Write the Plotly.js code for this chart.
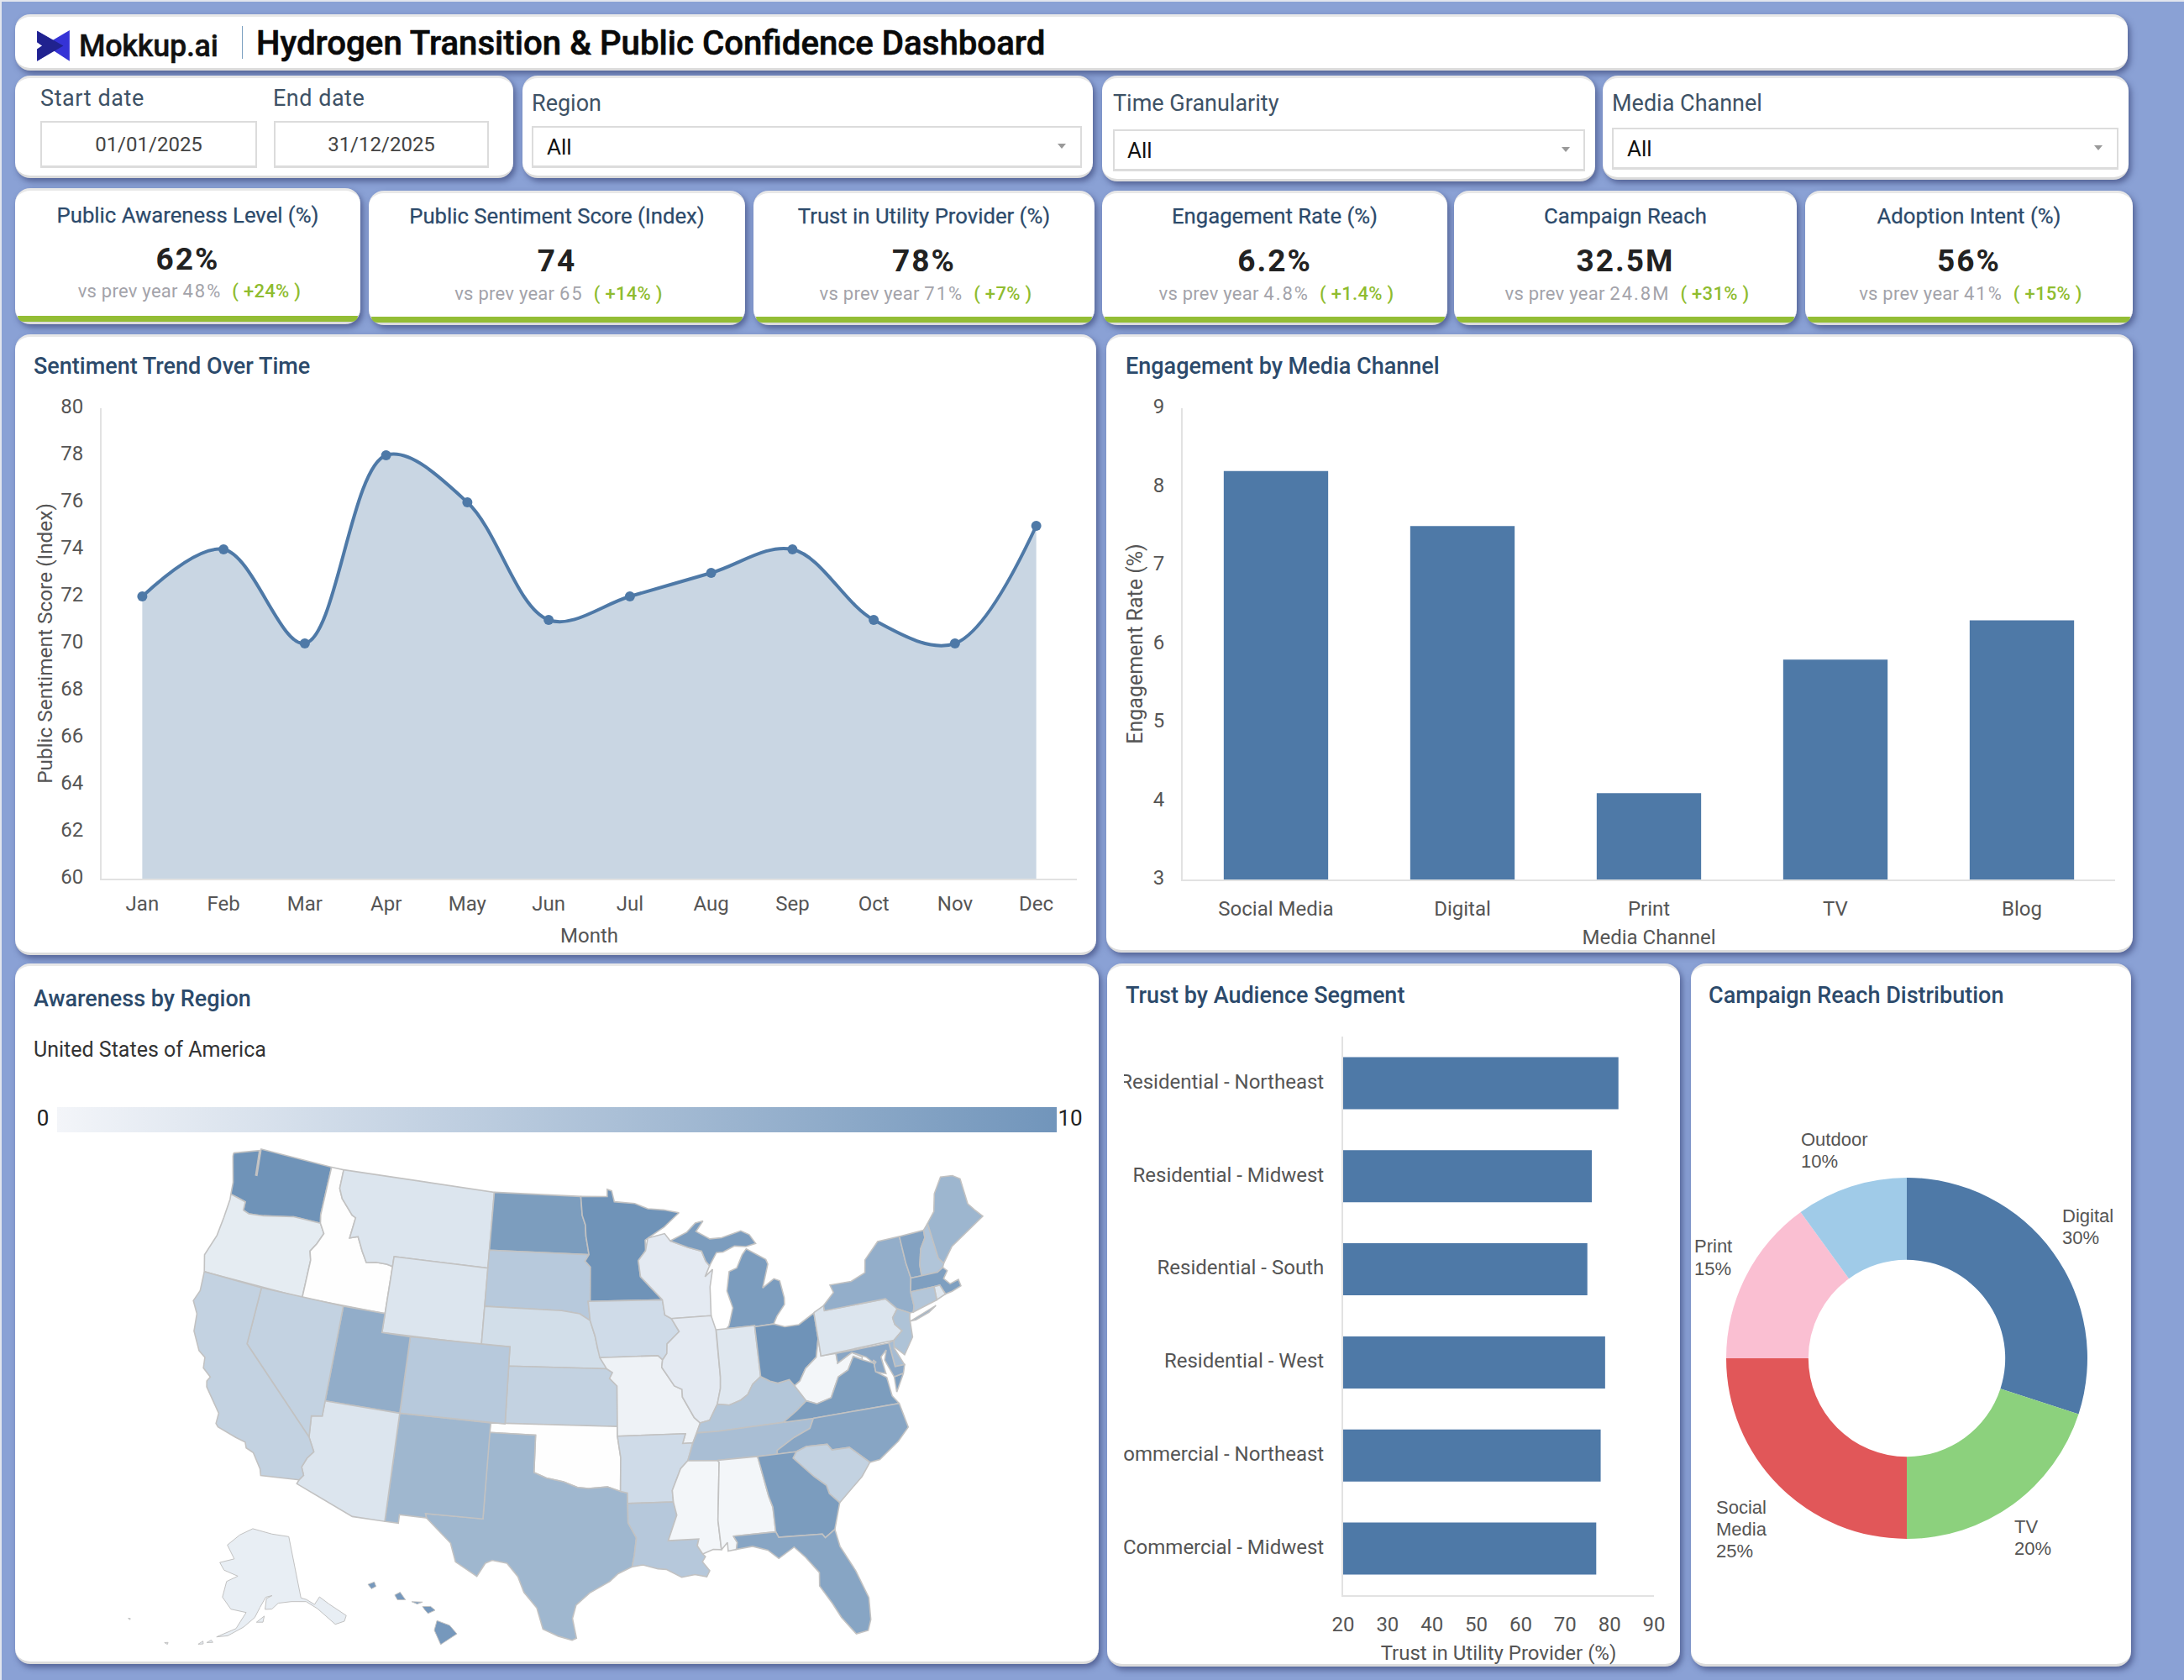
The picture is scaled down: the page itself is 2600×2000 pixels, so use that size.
<!DOCTYPE html>
<html><head><meta charset="utf-8">
<script src="https://cdn.plot.ly/plotly-3.0.1.min.js"></script>
<style>
html,body{margin:0;padding:0;width:2600px;height:2000px;background:#8aa1d5;overflow:hidden;font-family:Roboto,sans-serif}
.card{position:absolute;background:#fff;border-radius:18px;border-top:3px solid #e8e8e8;border-bottom:3px solid #dcdcdc;box-sizing:border-box;box-shadow:3px 4px 7px rgba(40,50,100,.55)}
.t{position:absolute;white-space:nowrap;line-height:1;transform:translateY(-50%)}
.c{transform:translate(-50%,-50%)}
.box{position:absolute;box-sizing:border-box;background:#fff;border:2px solid #dcdcdc;border-bottom-width:3px}
.arrow{position:absolute;width:0;height:0;border-left:5px solid transparent;border-right:5px solid transparent;border-top:6px solid #999}
.pt{font-weight:500;font-size:27px;color:#2c4a6b}
.flabel{font-size:27px;color:#3e5266}
.kt{font-weight:400;font-size:25.7px;color:#2c4a6b;-webkit-text-stroke:.25px #2c4a6b}
.kv{font-weight:700;font-size:37px;color:#222;letter-spacing:2px}
.ks{font-size:22px;color:#a3a3aa;letter-spacing:.25px}
.ks i{font-style:normal;letter-spacing:2px}
.ks b{color:#8fbc2f;font-weight:500;letter-spacing:.3px;margin-left:12px}
.green{position:absolute;left:3px;right:3px;bottom:0;height:7px;background:#93bd35;border-radius:0 0 12px 12px}
.plot{position:absolute}
</style></head><body>
<div style="position:absolute;left:0;top:0;width:2600px;height:2px;background:#e3e6ee"></div>
<div style="position:absolute;left:0;top:0;width:2px;height:2000px;background:#e3e6ee"></div>
<div id="page"></div>
<script>
// ---- data ----
const months=['Jan','Feb','Mar','Apr','May','Jun','Jul','Aug','Sep','Oct','Nov','Dec'];
const sentiment=[72,74,70,78,76,71,72,73,74,71,70,75];
const channels=['Social Media','Digital','Print','TV','Blog'];
const engagement=[8.2,7.5,4.1,5.8,6.3];
const segments=['Residential - Northeast','Residential - Midwest','Residential - South','Residential - West','Commercial - Northeast','Commercial - Midwest'];
const trust=[82,76,75,79,78,77];
const reachLabels=['Digital','TV','Social Media','Print','Outdoor'];
const reachValues=[30,20,25,15,10];
const reachColors=['#4e79a7','#8cd17d','#e15759','#fabfd2','#a0cbe8'];
const stateCodes=['WA','OR','ID','MT','WY','ND','SD','NE','KS','OK','TX','NM','CO','UT','AZ','NV','CA','MN','IA','MO','AR','LA','WI','IL','MS','MI','IN','KY','TN','AL','OH','WV','VA','NC','SC','GA','FL','PA','NY','VT','NH','ME','MA','RI','CT','NJ','DE','MD','DC','AK','HI'];
const stateValues=[10,1.8,0.1,2.4,2.4,9.1,5,3.1,4.2,0.1,6.7,6.7,5,7.6,2.4,4.2,4.2,10,3.3,1.2,3.3,5.1,1.9,1.9,0.8,9.2,2.2,5.3,6,0.8,10,0.8,9.1,8.3,4.2,9.2,8.3,2.4,7.5,8.6,5.4,6.8,8.9,2.2,5.3,5.6,6.2,8.2,6,1.6,9.5];
const kpis=[
 ['Public Awareness Level (%)','62%','vs prev year','48%','( +24% )'],
 ['Public Sentiment Score (Index)','74','vs prev year','65','( +14% )'],
 ['Trust in Utility Provider (%)','78%','vs prev year','71%','( +7% )'],
 ['Engagement Rate (%)','6.2%','vs prev year','4.8%','( +1.4% )'],
 ['Campaign Reach','32.5M','vs prev year','24.8M','( +31% )'],
 ['Adoption Intent (%)','56%','vs prev year','41%','( +15% )']];
// state outlines (lon,lat) used as geography for the map
const outlines={
WA:[[-124.73,48.38,-122.85,48.9,-122.6,47.6,-122.5,47.6,-122.75,49,-117.03,49,-117.04,46.42,-116.92,45.99,-118.98,46,-119.3,45.93,-121.2,45.65,-122.3,45.55,-122.76,45.65,-122.8,46.1,-123.4,46.2,-124,46.27,-124.1,46.9,-124.7,48.2]],
OR:[[-124,46.27,-123.4,46.2,-122.8,46.1,-122.76,45.65,-122.3,45.55,-121.2,45.65,-119.3,45.93,-118.98,46,-116.92,45.99,-116.5,45.5,-116.85,44.9,-117.22,44.45,-117.03,44,-117.03,42,-124.21,42,-124.55,42.84,-124.1,44,-124,45,-123.95,46]],
ID:[[-117.03,49,-116.05,49,-116.05,48,-115.7,47.5,-114.7,46.75,-114.4,46.65,-114.55,45.55,-113.95,45.7,-113.45,45,-113,44.45,-112.3,44.55,-111.5,44.55,-111.05,44.48,-111.05,42,-117.03,42,-117.03,44,-117.22,44.45,-116.85,44.9,-116.5,45.5,-116.92,45.99,-117.04,46.42]],
MT:[[-116.05,49,-104.05,49,-104.05,45,-111.05,45,-111.05,44.48,-111.5,44.55,-112.3,44.55,-113,44.45,-113.45,45,-113.95,45.7,-114.55,45.55,-114.4,46.65,-114.7,46.75,-115.7,47.5,-116.05,48]],
WY:[[-111.05,45,-104.05,45,-104.05,41,-111.05,41]],
ND:[[-104.05,49,-97.23,49,-97.1,48,-96.85,47.5,-96.8,46.9,-96.56,45.94,-104.05,45.94]],
SD:[[-104.05,45.94,-96.56,45.94,-96.85,45.6,-96.45,45.3,-96.45,43.5,-96.6,43.5,-96.45,42.5,-97.2,42.85,-98.5,43,-104.05,43]],
NE:[[-104.05,43,-98.5,43,-97.2,42.85,-96.45,42.5,-96.1,41.7,-95.9,41,-95.3,40,-102.05,40,-102.05,41,-104.05,41]],
KS:[[-102.05,40,-95.3,40,-94.9,39.8,-95.1,39.5,-94.6,39.1,-94.62,37,-102.04,37]],
OK:[[-103,37,-94.62,37,-94.62,36.5,-94.43,35.4,-94.48,33.64,-95.3,33.88,-96.5,33.8,-97.2,33.85,-98.1,34.13,-99.2,34.3,-100,34.56,-100,36.5,-103.04,36.5]],
TX:[[-103.04,36.5,-100,36.5,-100,34.56,-99.2,34.3,-98.1,34.13,-97.2,33.85,-96.5,33.8,-95.3,33.88,-94.48,33.64,-94.04,33.55,-94.04,33,-94.04,32,-93.55,31.2,-93.7,30.3,-93.85,29.7,-94.7,29.35,-95.2,28.95,-96.4,28.35,-97.2,27.7,-97.4,27,-97.15,25.96,-97.4,25.85,-98.2,26.05,-99.1,26.4,-99.5,27.5,-100.3,28.3,-100.7,29.1,-101.4,29.77,-102.3,29.88,-102.7,29.7,-103.15,28.98,-104.5,29.65,-104.9,30.6,-106,31.4,-106.53,31.78,-106.62,32,-103.04,32]],
NM:[[-109.05,37,-103,37,-103.04,32,-106.62,32,-106.53,31.78,-108.21,31.78,-108.21,31.33,-109.05,31.33]],
CO:[[-109.05,41,-102.05,41,-102.05,37,-109.05,37]],
UT:[[-114.05,42,-111.05,42,-111.05,41,-109.05,41,-109.05,37,-114.05,37]],
AZ:[[-114.05,37,-109.05,37,-109.05,31.33,-111.07,31.33,-114.81,32.5,-114.72,32.72,-114.5,33,-114.72,33.4,-114.5,33.9,-114.15,34.3,-114.63,35,-114.75,36.1,-114.05,36.2]],
NV:[[-120,42,-114.05,42,-114.05,36.2,-114.75,36.1,-114.63,35,-120,39]],
CA:[[-124.21,42,-120,42,-120,39,-114.63,35,-114.15,34.3,-114.5,33.9,-114.72,33.4,-114.5,33,-114.72,32.72,-117.12,32.53,-117.25,32.85,-117.9,33.6,-118.4,33.75,-118.55,34.03,-119.2,34.15,-120.47,34.45,-120.65,34.6,-120.65,35.15,-121.85,36.3,-121.95,36.6,-121.8,36.85,-122.4,37.2,-122.5,37.75,-123,38,-123.7,38.9,-123.85,39.8,-124.35,40.4,-124.1,41]],
MN:[[-97.23,49,-95.15,49,-95.15,49.38,-94.8,49.3,-94.6,48.72,-93,48.6,-92,48.3,-90.8,48.2,-89.6,48,-90.8,47.3,-92.1,46.75,-92.3,46.65,-92.3,46.1,-92.87,45.6,-92.75,44.75,-91.22,43.5,-96.45,43.5,-96.45,45.3,-96.85,45.6,-96.56,45.94,-96.8,46.9,-96.85,47.5,-97.1,48]],
IA:[[-96.45,43.5,-91.22,43.5,-91.1,42.7,-90.65,42.5,-90.15,41.8,-91.05,41.2,-91.1,40.7,-91.42,40.38,-91.73,40.61,-95.77,40.58,-95.9,41,-96.1,41.7,-96.45,42.5,-96.6,43.5]],
MO:[[-95.77,40.58,-91.73,40.61,-91.42,40.38,-91.5,40,-90.7,39,-90.2,38.8,-90.2,38.4,-89.5,37.3,-89.13,37,-89.4,36.5,-89.7,36,-90.37,36,-90.15,36.5,-94.62,36.5,-94.62,37,-94.6,39.1,-95.1,39.5,-94.9,39.8,-95.3,40]],
AR:[[-94.62,36.5,-90.15,36.5,-90.37,36,-89.7,36,-90.1,35.1,-90.6,34.7,-91.2,33.6,-91.17,33,-94.04,33,-94.04,33.55,-94.48,33.64,-94.43,35.4]],
LA:[[-94.04,33,-91.17,33,-91,32.3,-91.6,31,-89.73,31,-89.85,30.65,-89.55,30.2,-89.4,30.05,-89.6,29.8,-89.2,29.3,-89.4,29,-90.1,29.15,-90.9,29.05,-91.8,29.5,-92.3,29.55,-93.2,29.78,-93.85,29.7,-93.7,30.3,-93.55,31.2,-94.04,32]],
WI:[[-92.1,46.75,-90.8,46.95,-90.4,46.55,-89.1,46.15,-88.1,45.9,-87.85,45.35,-87.6,45.1,-88,44.55,-87.4,44.9,-87.7,44,-87.8,42.5,-90.65,42.5,-91.1,42.7,-91.22,43.5,-92.75,44.75,-92.87,45.6,-92.3,46.1]],
IL:[[-90.65,42.5,-87.8,42.5,-87.55,41.75,-87.53,39.3,-87.6,38.7,-87.9,37.9,-88.5,37.1,-89.13,37,-89.5,37.3,-90.2,38.4,-90.2,38.8,-90.7,39,-91.5,40,-91.42,40.38,-91.1,40.7,-91.05,41.2,-90.15,41.8]],
MS:[[-90.1,35.1,-88.2,35,-88.1,34.9,-88.47,31.9,-88.4,30.35,-88.9,30.4,-89.55,30.2,-89.85,30.65,-89.73,31,-91.6,31,-91,32.3,-91.17,33,-91.2,33.6,-90.6,34.7]],
MI:[[-86.8,41.76,-84.8,41.76,-84.8,41.7,-83.45,41.72,-83.15,42.1,-82.5,42.65,-82.45,43,-82.6,43.9,-83,44.05,-83.9,43.65,-83.3,44.85,-83.4,45.1,-84.75,45.78,-85.1,45.5,-85.6,44.85,-86.2,44.7,-86.5,43.7,-86.2,42.8,-86.6,41.9],[-90.4,46.55,-89.1,46.95,-88.4,47.4,-87.8,47.47,-88.4,46.95,-87.4,46.5,-86.5,46.5,-85,46.75,-84.4,46.5,-84,46,-84.75,45.9,-85.6,46,-86.5,45.75,-87,45.75,-87.6,45.1,-87.85,45.35,-88.1,45.9,-89.1,46.15]],
IN:[[-87.53,41.75,-87.2,41.75,-86.8,41.76,-84.8,41.76,-84.8,39.1,-85.4,38.75,-85.8,38.25,-86.3,38,-87.1,37.8,-87.9,37.9,-87.6,38.7,-87.53,39.3]],
KY:[[-89.4,36.5,-89.13,37,-88.5,37.1,-87.9,37.9,-87.1,37.8,-86.3,38,-85.8,38.25,-85.4,38.75,-84.8,39.1,-84.2,38.8,-83.7,38.65,-82.9,38.75,-82.6,38.4,-81.97,37.54,-82.7,37.1,-83.67,36.6,-88.05,36.5]],
TN:[[-89.7,36,-89.4,36.5,-88.05,36.5,-83.67,36.6,-81.68,36.59,-82,36.1,-83.1,35.75,-84.3,35.2,-84.32,35,-88.2,35,-90.1,35.1]],
AL:[[-88.2,35,-85.6,35,-85.18,32.87,-85,32.3,-85,31,-87.6,31,-87.4,30.65,-87.5,30.3,-88,30.25,-88,30.7,-88.4,30.35,-88.47,31.9,-88.1,34.9]],
OH:[[-84.8,41.7,-83.45,41.72,-82.7,41.5,-81.7,41.5,-80.52,41.98,-80.52,40.64,-80.85,39.7,-81.7,39.2,-82.2,38.6,-82.6,38.4,-82.9,38.75,-83.7,38.65,-84.2,38.8,-84.8,39.1]],
WV:[[-81.97,37.54,-82.6,38.4,-82.2,38.6,-81.7,39.2,-80.85,39.7,-80.52,40.64,-80.52,39.72,-79.48,39.72,-79.48,39.2,-78.4,39.62,-77.75,39.3,-77.8,39.15,-78.35,39.4,-78.87,38.76,-79.6,38.5,-80.3,37.5,-81.3,37.3]],
VA:[[-83.67,36.6,-82.7,37.1,-81.97,37.54,-81.3,37.3,-80.3,37.5,-79.6,38.5,-78.87,38.76,-78.35,39.4,-77.8,39.15,-77.05,38.85,-77.05,38.4,-76.4,38,-76.3,37,-75.95,36.55,-81.68,36.59],[-75.95,37.15,-75.25,38.03,-75.9,37.95]],
NC:[[-84.32,35,-84.3,35.2,-83.1,35.75,-82,36.1,-81.68,36.59,-75.95,36.55,-75.7,35.25,-76.5,34.65,-77.9,33.9,-78.55,33.85,-79.67,34.8,-80.8,34.82,-81.05,35.15,-82.4,35.2,-83.1,35]],
SC:[[-83.1,35,-82.4,35.2,-81.05,35.15,-80.8,34.82,-79.67,34.8,-78.55,33.85,-79.2,33.2,-80.85,32.05,-81.4,32.6,-81.5,33.05,-82.2,33.6,-83.35,34.7]],
GA:[[-85.6,35,-84.32,35,-83.1,35,-83.35,34.7,-82.2,33.6,-81.5,33.05,-81.4,32.6,-80.85,32.05,-81.4,30.72,-82.05,30.36,-82.2,30.57,-84.86,30.7,-85,31,-85,32.3,-85.18,32.87]],
FL:[[-87.6,31,-85,31,-84.86,30.7,-82.2,30.57,-82.05,30.36,-81.4,30.72,-81.25,29.8,-80.55,28.4,-80.05,26.9,-80.15,25.75,-80.4,25.2,-81.1,25.12,-81.8,26.1,-82.2,26.9,-82.8,27.9,-82.7,28.6,-83.4,29.5,-84,30.1,-85,29.6,-85.6,30.1,-86.5,30.38,-87.5,30.3,-87.4,30.65]],
PA:[[-80.52,42,-79.76,42.27,-79.76,42,-75.35,42,-74.7,41.36,-75.15,40.95,-75.1,40.6,-74.7,40.2,-75.4,39.8,-80.52,39.72]],
NY:[[-79.76,42.27,-78.9,42.85,-79.05,43.27,-77.5,43.25,-76.4,43.55,-76.2,44.2,-75,45,-73.35,45,-73.35,43.6,-73.25,42.75,-73.5,42.05,-73.5,41.3,-73.65,41,-73.9,41,-74.7,41.36,-75.35,42,-79.76,42],[-74,40.58,-72,41.05,-72.6,40.8,-73.6,40.58]],
VT:[[-73.35,45,-71.5,45,-71.55,44.6,-72.05,44.1,-72.4,43.3,-72.46,42.73,-73.25,42.75,-73.35,43.6]],
NH:[[-71.5,45,-71.08,45.3,-70.98,43.4,-70.7,43.07,-70.85,42.87,-71.3,42.7,-72.46,42.73,-72.4,43.3,-72.05,44.1,-71.55,44.6]],
ME:[[-71.08,45.3,-70.4,45.8,-70,46.7,-69.2,47.45,-68.3,47.35,-67.8,47.07,-67.8,45.7,-67.45,45.3,-67,44.85,-68.5,44.3,-69.8,43.8,-70.7,43.07,-70.98,43.4]],
MA:[[-73.5,42.05,-73.25,42.75,-72.46,42.73,-71.3,42.7,-70.85,42.87,-70.6,42.65,-71,42.3,-70.65,41.95,-70,42.05,-69.95,41.7,-70.65,41.55,-71.15,41.5,-71.38,42.02,-71.8,42.02]],
RI:[[-71.8,42.02,-71.38,42.02,-71.15,41.5,-71.85,41.32]],
CT:[[-73.5,42.05,-71.8,42.02,-71.85,41.32,-73.65,41,-73.5,41.3]],
NJ:[[-74.7,41.36,-73.9,41,-74,40.7,-74.1,39.75,-74.9,38.95,-75.5,39.5,-75.4,39.8,-74.7,40.2,-75.1,40.6,-75.15,40.95]],
DE:[[-75.78,39.72,-75.4,39.8,-75.5,39.4,-75.05,38.45,-75.7,38.46]],
MD:[[-79.48,39.72,-75.78,39.72,-75.7,38.46,-75.05,38.45,-75.25,38.03,-75.9,37.95,-76.3,38.9,-76.05,39.4,-76.5,39.1,-76.4,38.2,-77.05,38.4,-77.05,38.85,-77.5,39.25,-78.4,39.62,-79.48,39.2]],
DC:[[-77.12,38.93,-77.04,39,-76.91,38.89,-77.04,38.79]],
AK:[[-141,69.65,-141,60.3,-139.5,59.9,-137.5,58.9,-135.5,59.8,-133.5,58.4,-130,55.9,-131,55.2,-133.5,55.2,-135.5,57,-137,58.2,-139.7,59.6,-144,60,-148,60,-150,59.2,-152,59.2,-151.5,60.8,-149.7,61.2,-151.7,61,-153.5,59.5,-155,58,-158,56.5,-162,55,-164.8,54.6,-160,56.2,-157.5,58.7,-162,59,-165,60.6,-164.5,63,-161,64,-166,64.6,-168,65.6,-163,66.5,-166.5,68.4,-162,70.2,-156.5,71.3,-148,70.4],[-167,53.5,-166,54,-165.5,53.7],[-169,53,-168,53.6,-167.8,53.2],[-177,51.8,-176.2,52,-176.2,51.7],[-187.5,52.9,-187,53,-187,52.8],[-154.5,57.3,-152.3,58.2,-152.7,57.3]],
HI:[[-155.9,20.2,-155.2,19.95,-154.8,19.5,-155.7,18.95,-156.05,19.7],[-156.7,20.95,-156.25,20.95,-156,20.75,-156.4,20.58,-156.6,20.8],[-158.25,21.55,-157.95,21.7,-157.65,21.3,-158.1,21.3],[-159.75,22.1,-159.4,22.23,-159.3,22,-159.55,21.87],[-157.3,21.2,-156.7,21.18,-157,21.08]]
};
// ---- layout helpers ----
const page=document.getElementById('page');
function card(x0,y0,x1,y1){const d=document.createElement('div');d.className='card';d.style.cssText=`left:${x0}px;top:${y0}px;width:${x1-x0}px;height:${y1-y0}px`;page.appendChild(d);return d;}
function text(x,y,s,cls,css){const d=document.createElement('div');d.className='t '+(cls||'');d.style.left=x+'px';d.style.top=y+'px';if(css)d.style.cssText+=css;d.innerHTML=s;page.appendChild(d);return d;}
function box(x0,y0,x1,y1){const d=document.createElement('div');d.className='box';d.style.cssText=`left:${x0}px;top:${y0}px;width:${x1-x0}px;height:${y1-y0}px`;page.appendChild(d);return d;}
function arrow(x,y){const d=document.createElement('div');d.className='arrow';d.style.left=(x-5)+'px';d.style.top=(y-3)+'px';page.appendChild(d);}
function plotDiv(x0,y0,x1,y1){const d=document.createElement('div');d.className='plot';d.style.cssText=`left:${x0}px;top:${y0}px;width:${x1-x0}px;height:${y1-y0}px`;page.appendChild(d);return d;}
// header
card(18,17,2533,84);
page.insertAdjacentHTML('beforeend',`<svg style="position:absolute;left:44px;top:36px" width="39" height="37" viewBox="42 33 115 110"><path d="M42 35 L98 68 L157 33 L157 142 L100 105 L42 142 L42 100 L60 88 L42 75 Z" fill="#3533d6"/><path d="M42 35 L135 88 L42 142 L42 100 L60 88 L42 75 Z" fill="#20228f"/></svg>`);
text(94,55,'Mokkup.ai','',"font-size:36px;font-weight:500;color:#111;letter-spacing:-.3px;-webkit-text-stroke:.4px #111");
page.insertAdjacentHTML('beforeend','<div style="position:absolute;left:288px;top:31px;width:1px;height:39px;background:#7a9fc0"></div>');
text(305,52,'Hydrogen Transition &amp; Public Confidence Dashboard','',"font-size:40.2px;font-weight:500;color:#0a0a0a;-webkit-text-stroke:.6px #0a0a0a");
// filter cards
card(18,90,611,212);
text(48,117,'Start date','flabel',"letter-spacing:.6px");text(325,117,'End date','flabel',"letter-spacing:.5px");
box(48,144,306,200);box(326,144,582,200);
text(177,172,'01/01/2025','c',"font-size:24px;color:#444");text(454,172,'31/12/2025','c',"font-size:24px;color:#444");
card(622,90,1301,212);text(633,123,'Region','flabel');box(633,150,1288,200);text(651,175,'All','',"font-size:26px;color:#111");arrow(1264,174);
card(1312,90,1899,216);text(1325,123,'Time Granularity','flabel');box(1325,154,1887,204);text(1342,179,'All','',"font-size:26px;color:#111");arrow(1864,178);
card(1908,90,2534,214);text(1919,123,'Media Channel','flabel');box(1919,152,2522,202);text(1937,177,'All','',"font-size:26px;color:#111");arrow(2498,176);
// kpi cards
const kx=[[18,429],[439,887],[897,1303],[1312,1723],[1731,2139],[2149,2539]];
kpis.forEach((k,i)=>{
 const top=i==0?224:227,bot=i==0?386:387,dy=i==0?-2:0,cx=(kx[i][0]+kx[i][1])/2;
 const c=card(kx[i][0],top,kx[i][1],bot);c.insertAdjacentHTML('beforeend','<div class="green"></div>');
 text(cx,258+dy*.5,k[0],'c kt');text(cx,310+dy,k[1],'c kv');
 text(cx+2,350+dy*1.5,k[2]+' <i>'+k[3]+'</i><b>'+k[4]+'</b>','c ks');
});
// panels
card(18,398,1305,1137);text(40,436,'Sentiment Trend Over Time','pt');
card(1317,398,2539,1134);text(1340,436,'Engagement by Media Channel','pt');
card(18,1147,1308,1981);text(40,1189,'Awareness by Region','pt');text(40,1249,'United States of America','',"font-size:25px;color:#333");
card(1318,1147,2000,1984);text(1340,1185,'Trust by Audience Segment','pt');
card(2013,1147,2537,1984);text(2034,1185,'Campaign Reach Distribution','pt');
// colorbar
page.insertAdjacentHTML('beforeend','<div style="position:absolute;left:68px;top:1318px;width:1190px;height:30px;background:linear-gradient(90deg,#f3f5f9,#7195bb)"></div>');
text(51,1331,'0','c',"font-size:26px;color:#222");text(1274,1331,'10','c',"font-size:26px;color:#222");

// ---- charts ----
const tf={family:'Roboto',size:24,color:'#555'};
const axc='#e2e2e2';
const cfg={displayModeBar:false,staticPlot:true};
function axisBase(extra){return Object.assign({showgrid:false,zeroline:false,showline:true,linecolor:axc,linewidth:2,tickfont:tf,ticks:'',automargin:false},extra);}
// sentiment
Plotly.newPlot(plotDiv(18,400,1305,1136),[{x:months,y:sentiment,type:'scatter',mode:'lines+markers',fill:'tozeroy',fillcolor:'#c9d6e3',
 line:{shape:'spline',smoothing:1,color:'#4e79a7',width:4},marker:{size:12,color:'#4e79a7'}}],{
 width:1287,height:736,margin:{l:103,r:23,t:86,b:90},paper_bgcolor:'rgba(0,0,0,0)',plot_bgcolor:'rgba(0,0,0,0)',showlegend:false,
 xaxis:axisBase({type:'category',range:[-0.5,11.5],title:{text:'Month',font:tf,standoff:16},ticklabelstandoff:7}),
 yaxis:axisBase({range:[60,80],dtick:2,tick0:60,ticklabelshift:-2,title:{text:'Public Sentiment Score (Index)',font:{family:'Roboto',size:24.4,color:'#555'},standoff:3},ticklabelstandoff:15})
},cfg);
// engagement
Plotly.newPlot(plotDiv(1317,400,2539,1133),[{x:channels,y:engagement,type:'bar',width:0.56,marker:{color:'#4e79a7'}}],{
 width:1222,height:733,margin:{l:91,r:21,t:86,b:86},paper_bgcolor:'rgba(0,0,0,0)',plot_bgcolor:'rgba(0,0,0,0)',showlegend:false,
 xaxis:axisBase({type:'category',range:[-0.5,4.5],title:{text:'Media Channel',font:tf,standoff:12},ticklabelstandoff:12}),
 yaxis:axisBase({range:[3,9],dtick:1,ticklabelshift:-2,title:{text:'Engagement Rate (%)',font:{family:'Roboto',size:25,color:'#555'},standoff:5},ticklabelstandoff:15})
},cfg);
// trust
Plotly.newPlot(plotDiv(1338,1150,1998,1982),[{y:segments,x:trust,type:'bar',orientation:'h',width:0.56,marker:{color:'#4e79a7'}}],{
 width:660,height:832,margin:{l:261,r:29,t:84,b:83},paper_bgcolor:'rgba(0,0,0,0)',plot_bgcolor:'rgba(0,0,0,0)',showlegend:false,
 xaxis:axisBase({range:[20,90],dtick:10,title:{text:'Trust in Utility Provider (%)',font:tf,standoff:14},ticklabelstandoff:12}),
 yaxis:axisBase({type:'category',autorange:false,range:[5.5,-0.5],ticklabelstandoff:16,ticklabelshift:2})
},cfg);
// donut
const labelPos=[[2456,1447],[2399,1817],[2044,1794],[2018,1484],[2145,1356]];
const reachAnn=[];
reachLabels.forEach((l,i)=>{(l.split(' ').concat(reachValues[i]+'%')).forEach((line,j)=>{reachAnn.push({text:line,xref:'paper',yref:'paper',x:(labelPos[i][0]-3-2013)/524,y:1-(labelPos[i][1]+j*26-1150)/834,xanchor:'left',yanchor:'middle',align:'left',showarrow:false,font:{family:'Liberation Sans',size:22,color:'#555'}});});});
Plotly.newPlot(plotDiv(2013,1150,2537,1984),[{type:'pie',labels:reachLabels,values:reachValues,sort:false,direction:'clockwise',rotation:0,hole:0.545,
 textinfo:'none',marker:{colors:reachColors,line:{width:0}},domain:{x:[(2055-2013)/524,(2485-2013)/524],y:[1-(1832-1150)/834,1-(1402-1150)/834]}}],{
 width:524,height:834,margin:{l:0,r:0,t:0,b:0},paper_bgcolor:'rgba(0,0,0,0)',showlegend:false,annotations:reachAnn
},cfg);
// map: Albers USA through plain cartesian axes whose units are page pixels
const K=1304,TX=699.5,TY=1659.4,D=Math.PI/180;
function conic(p1,p2,rot,cen,k,tx,ty){
 const s=Math.sin(p1*D),n=(s+Math.sin(p2*D))/2,C=1+s*(2*n-s),r0=Math.sqrt(C)/n;
 const raw=(l,f)=>{const r=Math.sqrt(C-2*n*Math.sin(f*D))/n,a=(l+rot)*D*n;return [r*Math.sin(a),r0-r*Math.cos(a)];};
 const c=(()=>{const r=Math.sqrt(C-2*n*Math.sin(cen[1]*D))/n,a=cen[0]*D*n;return [r*Math.sin(a),r0-r*Math.cos(a)];})();
 return (l,f)=>{const q=raw(l,f);return [tx+k*(q[0]-c[0]),ty-k*(q[1]-c[1])];};
}
const lower48=conic(29.5,45.5,96,[-0.6,38.7],K,TX,TY);
const alaska=conic(55,65,154,[-2,58.5],0.35*K,TX-0.307*K,TY+0.201*K);
const hawaii=conic(8,18,157,[-3,19.9],K,TX-0.205*K,TY+0.212*K);
const lo=[255,255,255],hi=[111,147,184];
function mapColor(v){const t=v/10;return 'rgb('+lo.map((a,i)=>Math.round(a+(hi[i]-a)*t)).join(',')+')';}
const mapTraces=stateCodes.map((code,i)=>{
 const proj=code==='AK'?alaska:code==='HI'?hawaii:lower48;const xs=[],ys=[];
 outlines[code].forEach(part=>{for(let j=0;j<part.length;j+=2){const q=proj(part[j],part[j+1]);xs.push(q[0]);ys.push(q[1]);}
  const q0=proj(part[0],part[1]);xs.push(q0[0],null);ys.push(q0[1],null);});
 return {type:'scatter',mode:'lines',name:code,x:xs,y:ys,fill:'toself',fillcolor:mapColor(stateValues[i]),line:{color:'#c2c2c2',width:code==='AK'||code==='HI'?1:1.6},hoverinfo:'name'};
});
Plotly.newPlot(plotDiv(60,1352,1300,1976),mapTraces,{
 width:1240,height:624,margin:{l:0,r:0,t:0,b:0},paper_bgcolor:'rgba(0,0,0,0)',plot_bgcolor:'rgba(0,0,0,0)',showlegend:false,
 xaxis:{range:[60,1300],visible:false,fixedrange:true},yaxis:{range:[1976,1352],visible:false,fixedrange:true}
},cfg);
</script></body></html>
